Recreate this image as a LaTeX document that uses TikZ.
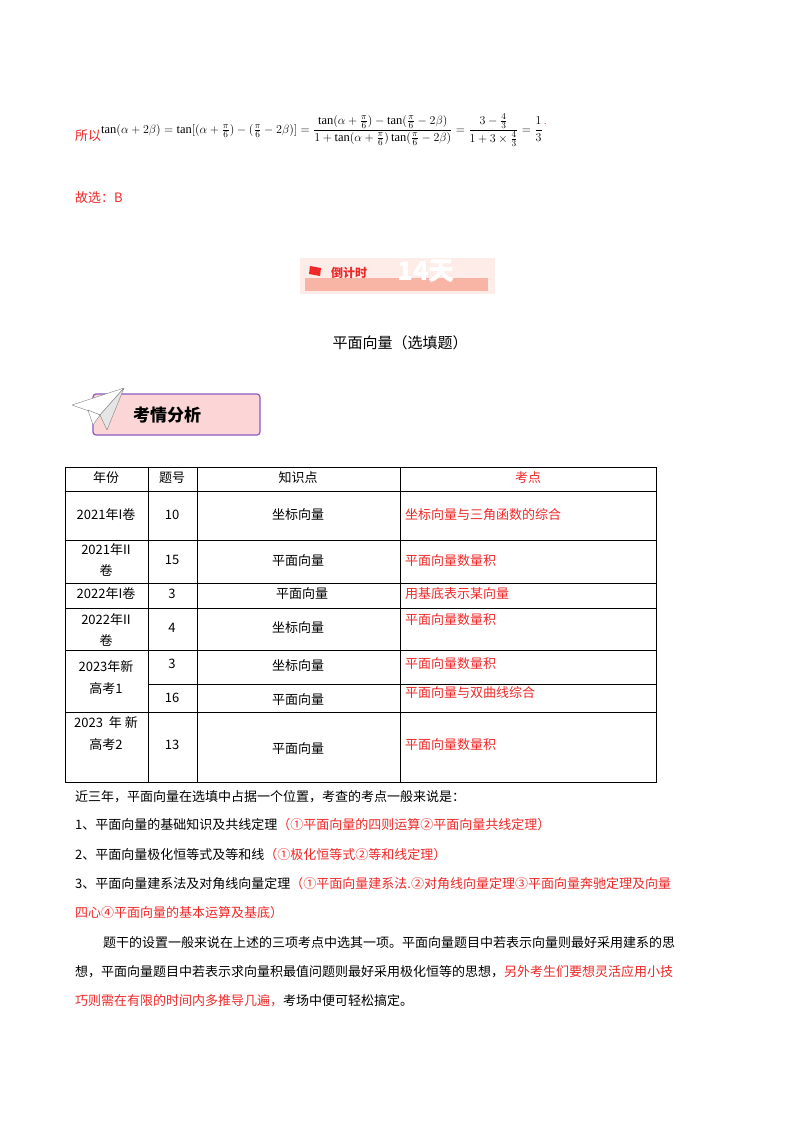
\documentclass[tikz,border=0pt]{standalone}
\usepackage{amsmath}
\usepackage{fontspec}
\setmainfont{Liberation Serif}
\newfontfamily\cjk{Noto Sans CJK SC}
\definecolor{myred}{RGB}{240,40,40}
\definecolor{bpink}{RGB}{252,214,214}
\definecolor{bpurp}{RGB}{140,90,190}
\definecolor{bar}{RGB}{248,180,165}
\definecolor{lite}{RGB}{253,236,232}
\begin{document}
\begin{tikzpicture}[x=1pt,y=-1pt,
  t/.style={inner sep=0pt,font=\cjk\fontsize{13}{15}\selectfont},
  tl/.style={t,anchor=west},
  grid/.style={draw=black,line width=0.6pt}]
\useasboundingbox[fill=white] (0,0) rectangle (800,1132);
% formula
\node[tl,text=myred] (so) at (75,136) {所以};
\node[anchor=west,inner sep=0pt,font=\fontsize{12.5}{15}\selectfont] (f) at (101,130)
 {$\tan(\alpha+2\beta)=\tan[(\alpha+\frac{\pi}{6})-(\frac{\pi}{6}-2\beta)]=\dfrac{\tan(\alpha+\frac{\pi}{6})-\tan(\frac{\pi}{6}-2\beta)}{1+\tan(\alpha+\frac{\pi}{6})\tan(\frac{\pi}{6}-2\beta)}=\dfrac{3-\frac{4}{3}}{1+3\times\frac{4}{3}}=\dfrac{1}{3}$};
\node[anchor=west,inner sep=1pt,text=myred] (dot) at ([yshift=6pt]f.east) {.};
\node[tl,text=myred] (gx) at (75,198) {故选：B};
% banner
\fill[lite] (300,258) rectangle (495,294);
\fill[bar] (305,278) rectangle (488,291);
\fill[myred] (310,266) -- (321,268) -- (320,276) -- (309,274) -- cycle;
\node[tl,text=myred,font=\cjk\bfseries\fontsize{12}{14}\selectfont] (djs) at (331,273) {倒计时};
\node[tl,text=white,font=\cjk\bfseries\fontsize{26}{28}\selectfont,draw=none] (d14) at (397,271) {14天};
\node[t,font=\cjk\fontsize{15}{17}\selectfont] (title) at (400,343) {平面向量（选填题）};
% kaoqing box
\draw[bpurp,fill=bpink,line width=1.2pt,rounded corners=3pt] (93,394) rectangle (260,435);
\node[tl,font=\cjk\bfseries\fontsize{17}{19}\selectfont] (kq) at (133,415) {考情分析};
\draw[gray,fill=white,line join=round] (72,405) -- (124,388) -- (100,415) -- cycle;
\draw[gray,fill=gray!20,line join=round] (100,415) -- (124,388) -- (107,430) -- cycle;
\draw[gray,fill=white,line join=round] (88,410) -- (100,415) -- (93,425) -- cycle;
% table
\draw[grid] (65,467) rectangle (656,782);
\foreach \y in {491,540,583,608,650,712} \draw[grid] (65,\y) -- (656,\y);
\draw[grid] (148,684) -- (656,684);
\foreach \x in {148,197,400} \draw[grid] (\x,467) -- (\x,782);
\node[t] (h1) at (106,478) {年份};
\node[t] (h2) at (172,478) {题号};
\node[t] (h3) at (298,478) {知识点};
\node[t,text=myred] (h4) at (528,478) {考点};
\node[t] (a1) at (106,515) {2021年I卷};
\node[t] (b1) at (172,515) {10};
\node[t] (c1) at (298,515) {坐标向量};
\node[tl,text=myred] (d1) at (405,515) {坐标向量与三角函数的综合};
\node[t] (a2) at (106,550) {2021年II};
\node[t] (a2b) at (106,570) {卷};
\node[t] (b2) at (172,560) {15};
\node[t] (c2) at (298,561) {平面向量};
\node[tl,text=myred] (d2) at (405,561) {平面向量数量积};
\node[t] (a3) at (106,594) {2022年I卷};
\node[t] (b3) at (172,594) {3};
\node[t] (c3) at (302,594) {平面向量};
\node[tl,text=myred] (d3) at (405,594) {用基底表示某向量};
\node[t] (a4) at (106,620) {2022年II};
\node[t] (a4b) at (106,640) {卷};
\node[t] (b4) at (172,628) {4};
\node[t] (c4) at (298,628) {坐标向量};
\node[tl,text=myred] (d4) at (405,620) {平面向量数量积};
\node[t] (a5) at (106,667) {2023年新};
\node[t] (a5b) at (106,689) {高考1};
\node[t] (b5) at (172,664) {3};
\node[t] (c5) at (298,666) {坐标向量};
\node[tl,text=myred] (d5) at (405,664) {平面向量数量积};
\node[t] (b6) at (172,698) {16};
\node[t] (c6) at (298,700) {平面向量};
\node[tl,text=myred] (d6) at (405,693) {平面向量与双曲线综合};
\node[t] (a7) at (106,723) {2023\ \ 年\ 新};
\node[t] (a7b) at (106,745) {高考2};
\node[t] (b7) at (172,745) {13};
\node[t] (c7) at (298,749) {平面向量};
\node[tl,text=myred] (d7) at (405,745) {平面向量数量积};
% paragraphs
\node[tl] (p0) at (75,797) {近三年，平面向量在选填中占据一个位置，考查的考点一般来说是：};
\node[tl] (p1) at (75,825) {1、平面向量的基础知识及共线定理\textcolor{myred}{（①平面向量的四则运算②平面向量共线定理）}};
\node[tl] (p2) at (75,855) {2、平面向量极化恒等式及等和线\textcolor{myred}{（①极化恒等式②等和线定理）}};
\node[tl] (p3) at (75,884) {3、平面向量建系法及对角线向量定理\textcolor{myred}{（①平面向量建系法.②对角线向量定理③平面向量奔驰定理及向量}};
\node[tl,text=myred] (p3b) at (75,913) {四心④平面向量的基本运算及基底）};
\node[tl] (p4) at (103,943) {题干的设置一般来说在上述的三项考点中选其一项。平面向量题目中若表示向量则最好采用建系的思};
\node[tl] (p5) at (75,972) {想，平面向量题目中若表示求向量积最值问题则最好采用极化恒等的思想，\textcolor{myred}{另外考生们要想灵活应用小技}};
\node[tl] (p6) at (75,1001) {\textcolor{myred}{巧则需在有限的时间内多推导几遍，}考场中便可轻松搞定。};
\end{tikzpicture}
\end{document}
